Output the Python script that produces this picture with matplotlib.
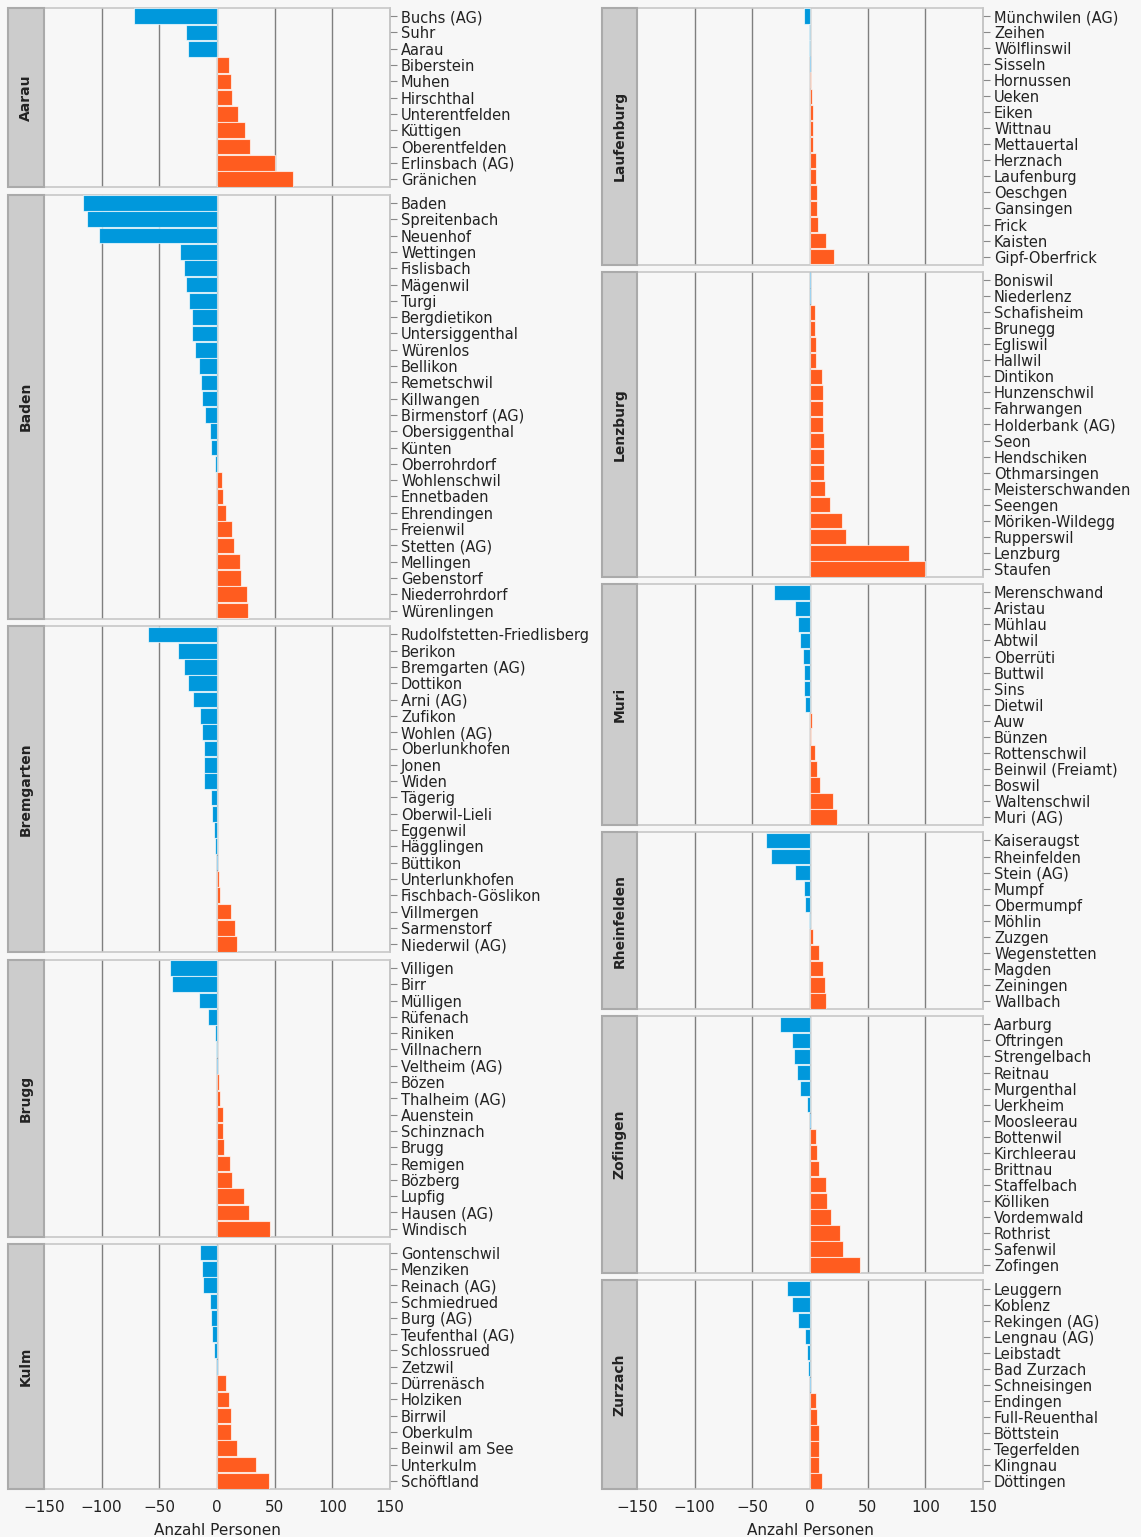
import matplotlib
matplotlib.use("Agg")
import matplotlib.pyplot as plt
from matplotlib.patches import Rectangle

# Wanderungssaldo pro Gemeinde, gruppiert nach Bezirk
aarau_names = ["Buchs (AG)", "Suhr", "Aarau", "Biberstein", "Muhen", "Hirschthal",
               "Unterentfelden", "Küttigen", "Oberentfelden", "Erlinsbach (AG)", "Gränichen"]
aarau_vals = [-72, -27, -25, 10, 12, 13, 18, 24, 29, 50, 66]

baden_names = ["Baden", "Spreitenbach", "Neuenhof", "Wettingen", "Fislisbach", "Mägenwil",
               "Turgi", "Bergdietikon", "Untersiggenthal", "Würenlos", "Bellikon",
               "Remetschwil", "Killwangen", "Birmenstorf (AG)", "Obersiggenthal", "Künten",
               "Oberrohrdorf", "Wohlenschwil", "Ennetbaden", "Ehrendingen", "Freienwil",
               "Stetten (AG)", "Mellingen", "Gebenstorf", "Niederrohrdorf", "Würenlingen"]
baden_vals = [-116, -113, -102, -32, -29, -27, -24, -22, -22, -19, -16, -14, -13, -10,
              -6, -5, -2, 4, 5, 8, 13, 15, 20, 21, 26, 27]

bremgarten_names = ["Rudolfstetten-Friedlisberg", "Berikon", "Bremgarten (AG)", "Dottikon",
                    "Arni (AG)", "Zufikon", "Wohlen (AG)", "Oberlunkhofen", "Jonen", "Widen",
                    "Tägerig", "Oberwil-Lieli", "Eggenwil", "Hägglingen", "Büttikon",
                    "Unterlunkhofen", "Fischbach-Göslikon", "Villmergen", "Sarmenstorf",
                    "Niederwil (AG)"]
bremgarten_vals = [-60, -34, -29, -25, -21, -15, -13, -11, -11, -11, -5, -4, -3, -2, 0,
                   2, 3, 12, 16, 17]

brugg_names = ["Villigen", "Birr", "Mülligen", "Rüfenach", "Riniken", "Villnachern",
               "Veltheim (AG)", "Bözen", "Thalheim (AG)", "Auenstein", "Schinznach", "Brugg",
               "Remigen", "Bözberg", "Lupfig", "Hausen (AG)", "Windisch"]
brugg_vals = [-41, -39, -16, -8, -2, -1, 0, 2, 3, 5, 5, 6, 11, 13, 23, 28, 46]

kulm_names = ["Gontenschwil", "Menziken", "Reinach (AG)", "Schmiedrued", "Burg (AG)",
              "Teufenthal (AG)", "Schlossrued", "Zetzwil", "Dürrenäsch", "Holziken",
              "Birrwil", "Oberkulm", "Beinwil am See", "Unterkulm", "Schöftland"]
kulm_vals = [-15, -13, -12, -6, -5, -4, -3, 0, 8, 10, 12, 12, 17, 34, 45]

laufenburg_names = ["Münchwilen (AG)", "Zeihen", "Wölflinswil", "Sisseln", "Hornussen",
                    "Ueken", "Eiken", "Wittnau", "Mettauertal", "Herznach", "Laufenburg",
                    "Oeschgen", "Gansingen", "Frick", "Kaisten", "Gipf-Oberfrick"]
laufenburg_vals = [-5, -1, -1, 0, 1, 2, 3, 3, 3, 5, 5, 6, 6, 7, 14, 21]

lenzburg_names = ["Boniswil", "Niederlenz", "Schafisheim", "Brunegg", "Egliswil", "Hallwil",
                  "Dintikon", "Hunzenschwil", "Fahrwangen", "Holderbank (AG)", "Seon",
                  "Hendschiken", "Othmarsingen", "Meisterschwanden", "Seengen",
                  "Möriken-Wildegg", "Rupperswil", "Lenzburg", "Staufen"]
lenzburg_vals = [0, 0, 4, 4, 5, 5, 10, 11, 11, 11, 12, 12, 12, 13, 17, 28, 31, 86, 100]

muri_names = ["Merenschwand", "Aristau", "Mühlau", "Abtwil", "Oberrüti", "Buttwil", "Sins",
              "Dietwil", "Auw", "Bünzen", "Rottenschwil", "Beinwil (Freiamt)", "Boswil",
              "Waltenschwil", "Muri (AG)"]
muri_vals = [-31, -13, -10, -9, -6, -5, -5, -4, 2, 1, 4, 6, 9, 20, 23]

rheinfelden_names = ["Kaiseraugst", "Rheinfelden", "Stein (AG)", "Mumpf", "Obermumpf",
                     "Möhlin", "Zuzgen", "Wegenstetten", "Magden", "Zeiningen", "Wallbach"]
rheinfelden_vals = [-38, -34, -13, -5, -4, -1, 3, 8, 11, 13, 14]

zofingen_names = ["Aarburg", "Oftringen", "Strengelbach", "Reitnau", "Murgenthal",
                  "Uerkheim", "Moosleerau", "Bottenwil", "Kirchleerau", "Brittnau",
                  "Staffelbach", "Kölliken", "Vordemwald", "Rothrist", "Safenwil", "Zofingen"]
zofingen_vals = [-26, -16, -14, -11, -9, -3, 0, 5, 6, 8, 14, 15, 18, 26, 29, 43]

zurzach_names = ["Leuggern", "Koblenz", "Rekingen (AG)", "Lengnau (AG)", "Leibstadt",
                 "Bad Zurzach", "Schneisingen", "Endingen", "Full-Reuenthal", "Böttstein",
                 "Tegerfelden", "Klingnau", "Döttingen"]
zurzach_vals = [-20, -16, -10, -4, -3, -2, 0, 5, 6, 8, 8, 8, 10]

x_ticks = [-150, -100, -50, 0, 50, 100, 150]
x_label = "Anzahl Personen"

left_col = [("Aarau", aarau_names, aarau_vals),
            ("Baden", baden_names, baden_vals),
            ("Bremgarten", bremgarten_names, bremgarten_vals),
            ("Brugg", brugg_names, brugg_vals),
            ("Kulm", kulm_names, kulm_vals)]
right_col = [("Laufenburg", laufenburg_names, laufenburg_vals),
             ("Lenzburg", lenzburg_names, lenzburg_vals),
             ("Muri", muri_names, muri_vals),
             ("Rheinfelden", rheinfelden_names, rheinfelden_vals),
             ("Zofingen", zofingen_names, zofingen_vals),
             ("Zurzach", zurzach_names, zurzach_vals)]

BG = "#f7f7f7"
BLUE = "#0098dc"
ORANGE = "#ff5c1f"
W, H = 1141, 1537

plt.rcParams["font.family"] = ["DejaVu Sans"]
fig = plt.figure(figsize=(W / 100, H / 100), dpi=100, facecolor=BG)


def draw_column(panels, x0, strip_w, plot_w, top, bottom, gap):
    total = sum(len(p[1]) for p in panels)
    row_h = (bottom - top - gap * (len(panels) - 1)) / total
    y = top
    for i, (district, names, vals) in enumerate(panels):
        h = row_h * len(names)
        ax = fig.add_axes([(x0 + strip_w) / W, 1 - (y + h) / H, plot_w / W, h / H])
        ax.set_facecolor(BG)
        colors = [ORANGE if v > 0 else BLUE for v in vals]
        edges = ["#ffffffaa" if v != 0 else "#9fd3f0" for v in vals]
        ax.barh(range(len(vals)), vals, height=0.96, color=colors,
                edgecolor=edges, linewidth=0.8, zorder=3)
        for t in x_ticks[1:-1]:
            ax.axvline(t, color="#7f7f7f", lw=1.0, zorder=1)
        ax.set_xlim(-150, 150)
        ax.set_ylim(len(vals) - 0.5, -0.5)
        ax.set_yticks(range(len(vals)))
        ax.set_yticklabels(names)
        ax.yaxis.tick_right()
        ax.tick_params(axis="y", length=5, width=0.8, color="#888888", pad=3,
                       labelsize=10.5, labelcolor="#222222")
        for s in ax.spines.values():
            s.set_color("#c8c8c8")
            s.set_linewidth(1.2)
        ax.spines["right"].set_color("#bdbdbd")
        ax.set_xticks(x_ticks)
        if i == len(panels) - 1:
            ax.set_xticklabels(["\u2212" + str(-t) if t < 0 else str(t) for t in x_ticks])
            ax.tick_params(axis="x", length=0, labelsize=11, pad=8, labelcolor="#222222")
            ax.set_xlabel(x_label, fontsize=11, labelpad=6, color="#222222")
        else:
            ax.tick_params(axis="x", length=0, labelbottom=False)

        # Streifen mit Bezirksname
        sax = fig.add_axes([x0 / W, 1 - (y + h) / H, strip_w / W, h / H])
        sax.set_xlim(0, 1)
        sax.set_ylim(0, 1)
        sax.axis("off")
        sax.add_patch(Rectangle((0, 0), 1, 1, facecolor="#cccccc", edgecolor="#aaaaaa",
                                lw=1.5, transform=sax.transAxes, clip_on=False))
        sax.text(0.5, 0.5, district, rotation=90, ha="center", va="center",
                 fontsize=10, fontweight="bold", color="#222222")
        y += h + gap


draw_column(left_col, 8, 36, 346, 8, 1489, 7.5)
draw_column(right_col, 602, 35, 346, 8, 1489, 7.5)

fig.savefig("out.png", dpi=100, facecolor=BG)
